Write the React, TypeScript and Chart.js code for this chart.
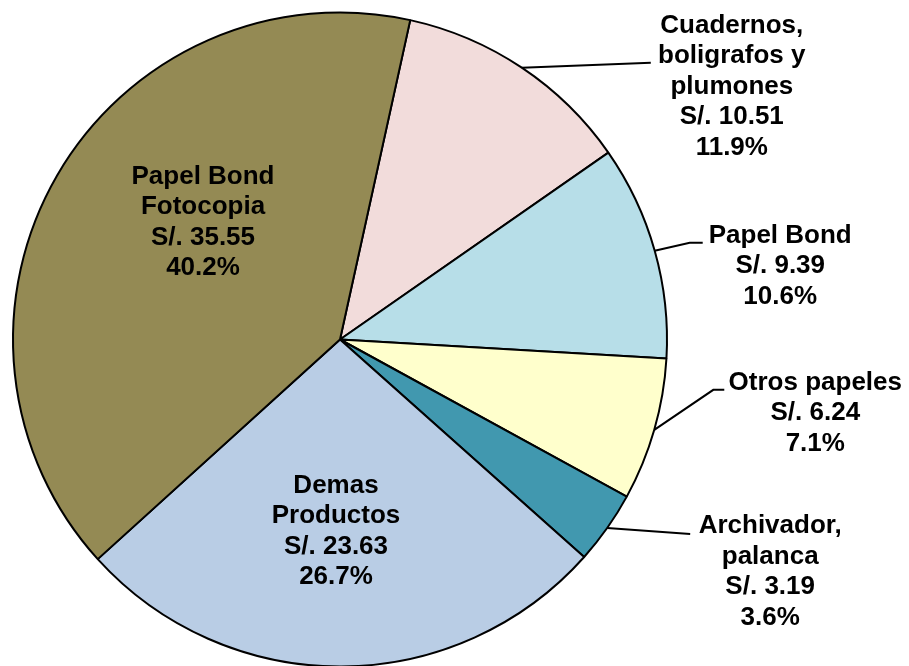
import React, { useEffect, useRef } from "react";
import { Chart, registerables } from "chart.js";

Chart.register(...registerables);

const categories = [
  "Cuadernos,\nboligrafos y\nplumones",
  "Papel Bond",
  "Otros papeles",
  "Archivador,\npalanca",
  "Demas\nProductos",
  "Papel Bond\nFotocopia",
];
const values = [10.51, 9.39, 6.24, 3.19, 23.63, 35.55];
const colors = ["#F2DCDB", "#B7DEE8", "#FFFFCC", "#4198AF", "#B9CDE5", "#948A54"];

// Label layout: "out" labels are placed relative to the slice's outer mid-point,
// "in" labels relative to the pie centre.
const labelLayout: any[] = [
  { mode: "out", leader: [[129, -5]], tx: 210, ty: -35 },
  { mode: "out", leader: [[35, -8], [48, -8]], tx: 125.5, ty: -8 },
  { mode: "out", leader: [[59, -40], [70, -40]], tx: 161, ty: -40 },
  { mode: "out", leader: [[83, 6]], tx: 163, ty: 5 },
  { mode: "in", tx: -4, ty: 153 },
  { mode: "in", tx: -137, ty: -156 },
];

const FONT = "bold 26px 'Liberation Sans', Arial, sans-serif";
const LINE_H = 30.5;

const labelPlugin = {
  id: "pieLabels",
  afterDatasetsDraw(chart: any) {
    const ctx = chart.ctx;
    const meta = chart.getDatasetMeta(0);
    const data = chart.data.datasets[0].data as number[];
    const total = data.reduce((a, b) => a + b, 0);
    ctx.save();
    ctx.font = FONT;
    ctx.fillStyle = "#000";
    ctx.strokeStyle = "#000";
    ctx.lineWidth = 2;
    ctx.textAlign = "center";
    ctx.textBaseline = "alphabetic";
    meta.data.forEach((arc: any, i: number) => {
      const p = arc.getProps(["x", "y", "startAngle", "endAngle", "outerRadius"], true);
      const mid = (p.startAngle + p.endAngle) / 2;
      const lay = labelLayout[i];
      let ax: number, ay: number;
      if (lay.mode === "out") {
        ax = p.x + Math.cos(mid) * p.outerRadius;
        ay = p.y + Math.sin(mid) * p.outerRadius;
        ctx.beginPath();
        ctx.moveTo(ax, ay);
        lay.leader.forEach((pt: number[]) => ctx.lineTo(ax + pt[0], ay + pt[1]));
        ctx.stroke();
      } else {
        ax = p.x;
        ay = p.y;
      }
      const lines = String(chart.data.labels[i]).split("\n");
      lines.push("S/. " + data[i].toFixed(2));
      lines.push(((data[i] / total) * 100).toFixed(1) + "%");
      lines.forEach((t, k) => {
        ctx.fillText(t, ax + lay.tx, ay + lay.ty + k * LINE_H);
      });
    });
    ctx.restore();
  },
};

export default function App() {
  const ref = useRef<HTMLCanvasElement | null>(null);
  useEffect(() => {
    if (!ref.current) return;
    const chart = new Chart(ref.current, {
      type: "pie",
      data: {
        labels: categories,
        datasets: [
          {
            data: values,
            backgroundColor: colors,
            borderColor: "#000",
            borderWidth: 2,
            hoverOffset: 0,
          },
        ],
      },
      options: {
        responsive: false,
        animation: false,
        devicePixelRatio: 1,
        rotation: 12.4,
        radius: 327,
        layout: { padding: { left: 0, right: 229, top: 13, bottom: 0 } },
        plugins: {
          legend: { display: false },
          tooltip: { enabled: false },
        },
      } as any,
      plugins: [labelPlugin],
    });
    return () => chart.destroy();
  }, []);
  return (
    <div style={{ position: "fixed", left: 0, top: 0, width: 909, height: 666, background: "#fff" }}>
      <canvas ref={ref} width={909} height={666} style={{ display: "block" }} />
    </div>
  );
}
